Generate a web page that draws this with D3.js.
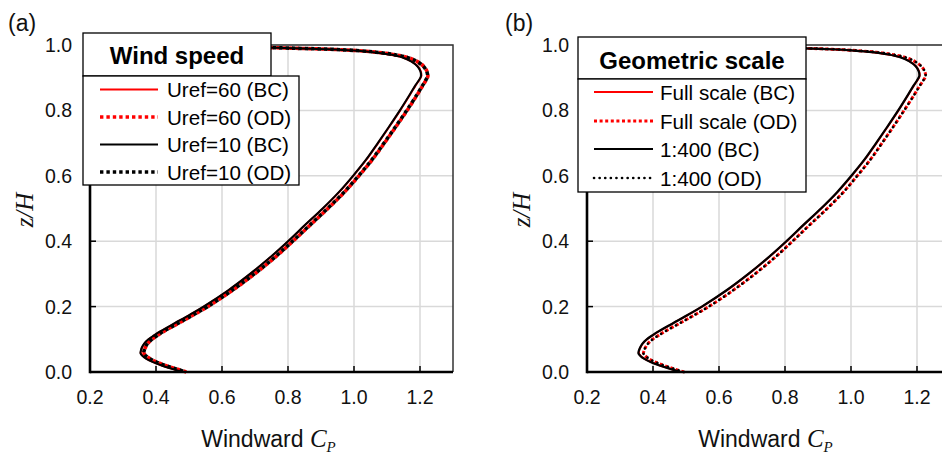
<!DOCTYPE html>
<html><head><meta charset="utf-8">
<script src="https://cdn.jsdelivr.net/npm/d3@7"></script>
<style>body{margin:0;background:#fff}svg{display:block}</style>
</head><body><svg id="c" width="942" height="456"></svg>
<script>
// ---- data (z/H vs windward Cp) ----
const zH = [0,0.01,0.02,0.03,0.04,0.05,0.057,0.065,0.075,0.087,0.1,0.112,0.125,0.15,0.175,0.2,0.25,0.3,0.35,0.4,0.45,0.5,0.55,0.6,0.65,0.7,0.75,0.8,0.85,0.875,0.89,0.905,0.92,0.935,0.95,0.962,0.972,0.978,0.983,0.987,0.99,0.993,0.996,1.0];
// panel (a) Wind speed
const cpUref60BC = [0.482,0.449,0.418,0.392,0.372,0.359,0.354,0.355,0.358,0.365,0.378,0.395,0.415,0.459,0.503,0.545,0.620,0.686,0.746,0.801,0.853,0.906,0.955,0.998,1.038,1.073,1.107,1.140,1.171,1.186,1.196,1.204,1.202,1.193,1.174,1.148,1.102,1.058,1.000,0.920,0.820,0.700,0.540,0.300];
const cpUref60OD = [0.492,0.460,0.429,0.403,0.383,0.369,0.364,0.365,0.368,0.375,0.388,0.405,0.425,0.470,0.514,0.557,0.632,0.699,0.760,0.815,0.868,0.921,0.971,1.015,1.056,1.092,1.127,1.161,1.193,1.208,1.217,1.224,1.221,1.211,1.191,1.162,1.114,1.068,1.008,0.926,0.824,0.702,0.541,0.300];
const cpUref10BC = [0.481,0.448,0.417,0.391,0.371,0.358,0.353,0.354,0.357,0.364,0.377,0.394,0.414,0.458,0.502,0.544,0.619,0.685,0.745,0.800,0.852,0.905,0.954,0.997,1.037,1.072,1.106,1.139,1.170,1.185,1.195,1.203,1.201,1.192,1.173,1.147,1.101,1.057,0.999,0.920,0.820,0.700,0.540,0.300];
const cpUref10OD = [0.491,0.459,0.428,0.402,0.382,0.368,0.363,0.364,0.367,0.374,0.387,0.404,0.424,0.469,0.513,0.556,0.631,0.698,0.759,0.814,0.867,0.920,0.970,1.014,1.055,1.091,1.126,1.160,1.192,1.207,1.216,1.223,1.220,1.210,1.190,1.161,1.113,1.067,1.007,0.926,0.824,0.702,0.541,0.300];
// panel (b) Geometric scale
const cpFullBC = [0.484,0.452,0.421,0.395,0.375,0.362,0.357,0.358,0.362,0.369,0.382,0.399,0.419,0.463,0.507,0.549,0.624,0.690,0.750,0.805,0.857,0.910,0.959,1.002,1.042,1.077,1.111,1.144,1.175,1.190,1.200,1.208,1.206,1.197,1.178,1.152,1.108,1.066,1.010,0.940,0.850,0.720,0.550,0.300];
const cpFullOD = [0.494,0.463,0.433,0.408,0.389,0.376,0.371,0.373,0.377,0.385,0.399,0.417,0.438,0.483,0.527,0.569,0.643,0.709,0.769,0.823,0.875,0.928,0.977,1.019,1.059,1.094,1.128,1.161,1.193,1.208,1.218,1.226,1.223,1.213,1.193,1.166,1.120,1.076,1.017,0.946,0.853,0.722,0.551,0.300];
const cp400BC  = [0.483,0.451,0.420,0.394,0.374,0.361,0.356,0.357,0.361,0.368,0.381,0.398,0.418,0.462,0.506,0.548,0.623,0.689,0.749,0.804,0.856,0.909,0.958,1.001,1.041,1.076,1.110,1.143,1.174,1.189,1.199,1.207,1.205,1.196,1.177,1.151,1.107,1.065,1.009,0.940,0.850,0.720,0.550,0.300];
const cp400OD  = [0.494,0.463,0.433,0.408,0.389,0.376,0.371,0.373,0.377,0.385,0.399,0.417,0.438,0.483,0.527,0.569,0.643,0.709,0.769,0.823,0.875,0.928,0.977,1.019,1.059,1.094,1.128,1.161,1.193,1.208,1.218,1.226,1.223,1.213,1.193,1.166,1.120,1.076,1.017,0.946,0.853,0.722,0.551,0.300];
const xTicks = [0.2,0.4,0.6,0.8,1.0,1.2];
const yTicks = [0.0,0.2,0.4,0.6,0.8,1.0];
const legendA = ["Uref=60 (BC)","Uref=60 (OD)","Uref=10 (BC)","Uref=10 (OD)"];
const legendB = ["Full scale (BC)","Full scale (OD)","1:400 (BC)","1:400 (OD)"];
const titleA = "Wind speed", titleB = "Geometric scale";

const svg = d3.select("#c");
const SANS = "'Liberation Sans', Arial, sans-serif";
const SERIF = "'Liberation Serif', 'Times New Roman', serif";

function panel(cfg){
  const g = svg.append("g");
  const L = cfg.left, T = 45, B = 372;
  const x = d3.scaleLinear().domain([0.2,1.3]).range([L, L+363]);
  const y = d3.scaleLinear().domain([0,1]).range([B, T]);
  // grid
  g.selectAll(".gx").data(xTicks.filter(v=>v>0.21)).enter().append("line")
    .attr("x1",d=>x(d)).attr("x2",d=>x(d)).attr("y1",T).attr("y2",B)
    .attr("stroke","#d9d9d9").attr("stroke-width",1.5);
  g.selectAll(".gy").data(yTicks.filter(v=>v>0.01)).enter().append("line")
    .attr("x1",L).attr("x2",x(1.3)).attr("y1",d=>y(d)).attr("y2",d=>y(d))
    .attr("stroke","#d9d9d9").attr("stroke-width",1.5);
  // frame top/right
  g.append("path").attr("d",`M${L},${T}H${x(1.3)}V${B}`).attr("fill","none")
    .attr("stroke","#333").attr("stroke-width",1.5);
  // curves
  const line = d3.line().x(d=>x(d[0])).y(d=>y(d[1])).curve(d3.curveCatmullRom.alpha(0.5));
  cfg.series.forEach(s=>{
    g.append("path").datum(s.cp.map((c,i)=>[c,zH[i]])).attr("d",line)
      .attr("fill","none").attr("stroke",s.color).attr("stroke-width",s.w)
      .attr("stroke-dasharray",s.dash||null).attr("stroke-dashoffset",s.off||0)
      .attr("stroke-linecap",s.cap||"butt").attr("stroke-linejoin","round");
  });
  // axes
  g.append("line").attr("x1",L).attr("x2",x(1.3)).attr("y1",B).attr("y2",B).attr("stroke","#000").attr("stroke-width",2.6);
  g.append("line").attr("x1",L).attr("x2",L).attr("y1",T-1).attr("y2",B+1.3).attr("stroke","#000").attr("stroke-width",2.6);
  g.selectAll(".tx").data(xTicks).enter().append("line")
    .attr("x1",d=>x(d)).attr("x2",d=>x(d)).attr("y1",B).attr("y2",B-6).attr("stroke","#000").attr("stroke-width",1.5);
  g.selectAll(".ty").data(yTicks).enter().append("line")
    .attr("x1",L).attr("x2",L+6).attr("y1",d=>y(d)).attr("y2",d=>y(d)).attr("stroke","#000").attr("stroke-width",1.5);
  const fmt = d3.format(".1f");
  g.selectAll(".lx").data(xTicks).enter().append("text")
    .attr("x",d=>x(d)).attr("y",404).attr("text-anchor","middle")
    .attr("font-family",SANS).attr("font-size",19.5).attr("fill","#111").text(fmt);
  g.selectAll(".ly").data(yTicks).enter().append("text")
    .attr("x",L-18).attr("y",d=>y(d)+7).attr("text-anchor","end")
    .attr("font-family",SANS).attr("font-size",19.5).attr("fill","#111").text(fmt);
  // axis titles
  const xt = g.append("text").attr("x",L+178.5).attr("y",447).attr("text-anchor","middle")
    .attr("font-family",SANS).attr("font-size",23).attr("fill","#111");
  xt.append("tspan").text("Windward ");
  xt.append("tspan").attr("font-family",SERIF).attr("font-style","italic").attr("font-size",25).text("C");
  xt.append("tspan").attr("font-family",SERIF).attr("font-style","italic").attr("font-size",15).attr("dy",5).text("P");
  g.append("text").attr("transform",`translate(${L-57},210) rotate(-90)`).attr("text-anchor","middle")
    .attr("font-family",SERIF).attr("font-style","italic").attr("font-size",25).attr("fill","#111").text("z/H");
  // panel label
  g.append("text").attr("x",cfg.labX).attr("y",31).attr("font-family",SANS).attr("font-size",23).attr("fill","#111").text(cfg.lab);
  // legend
  const lg = cfg.leg;
  g.append("rect").attr("x",lg.x).attr("y",lg.ty).attr("width",lg.tw).attr("height",lg.iy-lg.ty)
    .attr("fill","#fff").attr("stroke","#000").attr("stroke-width",1.3);
  g.append("rect").attr("x",lg.x).attr("y",lg.iy).attr("width",lg.iw).attr("height",lg.by-lg.iy)
    .attr("fill","#fff").attr("stroke","#000").attr("stroke-width",1.3);
  g.append("text").attr("x",lg.x+lg.tw/2).attr("y",lg.tBase).attr("text-anchor","middle")
    .attr("font-family",SANS).attr("font-weight","bold").attr("font-size",24).attr("fill","#000").text(cfg.title);
  cfg.labels.forEach((t,i)=>{
    const s = cfg.series[cfg.legOrder[i]];
    const cy = lg.rows[i];
    g.append("line").attr("x1",lg.l1).attr("x2",lg.l2).attr("y1",cy).attr("y2",cy)
      .attr("stroke",s.color).attr("stroke-width",s.lw||s.w).attr("stroke-dasharray",s.dash||null)
      .attr("stroke-linecap",s.cap||"butt");
    g.append("text").attr("x",lg.tx).attr("y",cy+7.5).attr("font-family",SANS).attr("font-size",20.6)
      .attr("fill","#000").text(t);
  });
}

panel({
  left:90, lab:"(a)", labX:8, title:titleA, labels:legendA,
  series:[
    {cp:cpUref60BC,color:"#ff0000",w:2},
    {cp:cpUref60OD,color:"#ff0000",w:3.6,dash:"3.4,3"},
    {cp:cpUref10BC,color:"#000000",w:2},
    {cp:cpUref10OD,color:"#000000",w:3.6,dash:"3.4,3",off:3.2}
  ],
  legOrder:[0,1,2,3],
  leg:{x:83,ty:33,tw:188,iy:76,iw:216,by:185,tBase:64,rows:[89.5,117,144.5,172],l1:100,l2:158,tx:167}
});
panel({
  left:587, lab:"(b)", labX:505, title:titleB, labels:legendB,
  series:[
    {cp:cpFullBC,color:"#ff0000",w:2},
    {cp:cpFullOD,color:"#ff0000",w:3,dash:"3,2.6"},
    {cp:cp400BC,color:"#000000",w:2.2},
    {cp:cp400OD,color:"#000000",w:2.6,dash:"0.1,5.5",cap:"round"}
  ],
  legOrder:[0,1,2,3],
  leg:{x:578,ty:37,tw:228,iy:79,iw:228,by:192,tBase:69,rows:[92,121,149,178],l1:594,l2:653,tx:660}
});
</script></body></html>
